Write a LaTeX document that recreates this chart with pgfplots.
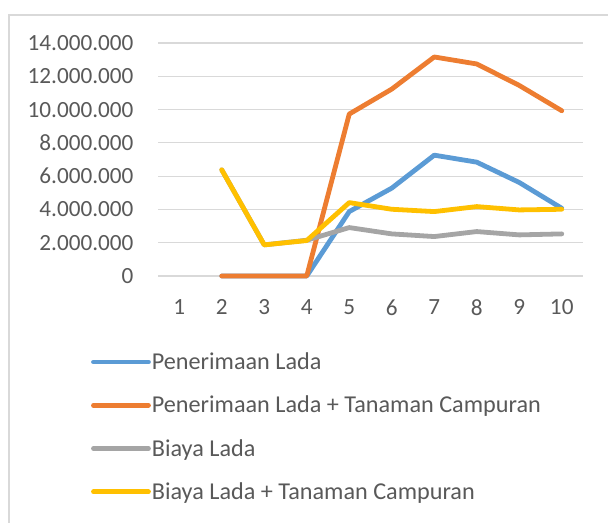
\documentclass[border=0pt]{standalone}
\usepackage{pgfplots}
\pgfplotsset{compat=1.18}
\usepackage{fontspec}
\setmainfont{Carlito}
\definecolor{cBlue}{HTML}{5B9BD5}
\definecolor{cOrange}{HTML}{ED7D31}
\definecolor{cGray}{HTML}{A5A5A5}
\definecolor{cYellow}{HTML}{FFC000}
\definecolor{cText}{HTML}{595959}
\definecolor{cGrid}{HTML}{D9D9D9}
\begin{document}
\begin{tikzpicture}
\useasboundingbox (0,0) rectangle (608bp,523bp);
\draw[cGrid, line width=1.2bp] (9bp,-20bp) -- (9bp,508bp) -- (640bp,508bp);
\begin{axis}[
  at={(158bp,247bp)}, anchor=south west,
  scale only axis, width=425bp, height=233bp,
  xmin=0.5, xmax=10.5, ymin=0, ymax=14000000,
  clip=false,
  xtick={1,...,10}, ytick={0,2000000,...,14000000},
  scaled y ticks=false,
  /pgf/number format/assume math mode=true,
  yticklabel style={/pgf/number format/.cd, fixed, 1000 sep={.}},
  ymajorgrids, grid style={cGrid, line width=1.2bp},
  axis line style={draw=none}, tick style={draw=none},
  ticklabel style={font=\fontsize{23.2bp}{27bp}\selectfont, text=cText},
  yticklabel shift=21bp, xticklabel shift=20bp,
  every axis plot/.append style={line width=4.8bp, line cap=round, line join=round},
  legend style={at={(-0.165,-0.312)}, anchor=north west, draw=none, fill=none,
    font=\fontsize{24.2bp}{28bp}\selectfont, text=cText, row sep=21bp,
    nodes={inner xsep=1bp}},
  legend cell align=left,
  legend image code/.code={\draw[#1, line width=4.8bp, line cap=round] (0bp,0bp) -- (55bp,0bp);},
]
\addplot[cBlue] coordinates {(2,0) (3,0) (4,0) (5,3870000) (6,5280000) (7,7260000) (8,6840000) (9,5620000) (10,4070000)};
\addlegendentry{Penerimaan Lada}
\addplot[cOrange] coordinates {(2,0) (3,0) (4,0) (5,9730000) (6,11230000) (7,13160000) (8,12740000) (9,11450000) (10,9930000)};
\addlegendentry{Penerimaan Lada + Tanaman Campuran}
\addplot[cGray] coordinates {(2,6380000) (3,1870000) (4,2150000) (5,2910000) (6,2530000) (7,2370000) (8,2670000) (9,2470000) (10,2530000)};
\addlegendentry{Biaya Lada}
\addplot[cYellow] coordinates {(2,6380000) (3,1870000) (4,2130000) (5,4410000) (6,4010000) (7,3870000) (8,4170000) (9,3970000) (10,4010000)};
\addlegendentry{Biaya Lada + Tanaman Campuran}
\end{axis}
\end{tikzpicture}
\end{document}
